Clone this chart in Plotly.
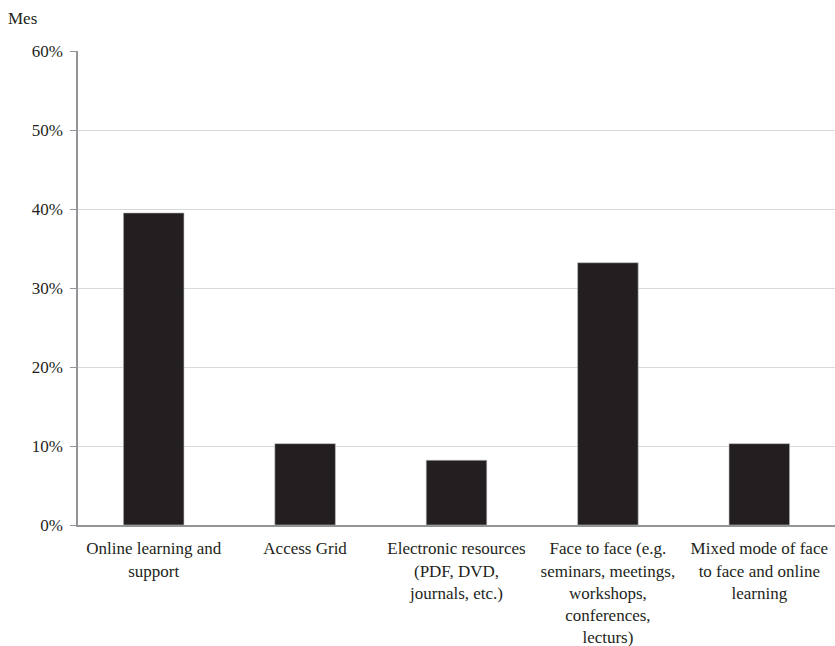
import plotly.graph_objects as go

# Share of respondents by preferred mode of professional learning
categories = [
    "Online learning and<br>support",
    "Access Grid",
    "Electronic resources<br>(PDF, DVD,<br>journals, etc.)",
    "Face to face (e.g.<br>seminars, meetings,<br>workshops,<br>conferences,<br>lecturs)",
    "Mixed mode of face<br>to face and online<br>learning",
]
shares = [39.5, 10.3, 8.2, 33.2, 10.3]
y_ticks = [0, 10, 20, 30, 40, 50, 60]
y_tick_labels = [f"{v}%" for v in y_ticks]

text_color = "#231f20"
font_family = "Liberation Serif, Times New Roman, serif"

fig = go.Figure(
    go.Bar(
        x=categories,
        y=shares,
        width=0.4,
        marker=dict(color="#231f20", line=dict(color="#bcbec0", width=0.6)),
        hoverinfo="x+y",
    )
)

fig.update_layout(
    width=835,
    height=646,
    margin=dict(l=78, r=0, t=51, b=121),
    paper_bgcolor="white",
    plot_bgcolor="white",
    font=dict(family=font_family, size=17, color=text_color),
    showlegend=False,
    annotations=[
        dict(
            text="Mes",
            xref="paper",
            yref="paper",
            x=-78 / 757,
            y=1,
            yshift=21,
            xshift=6,
            xanchor="left",
            yanchor="bottom",
            showarrow=False,
            font=dict(family=font_family, size=17, color=text_color),
        )
    ],
)

fig.update_xaxes(
    showline=True,
    linecolor="#939598",
    linewidth=2,
    ticks="",
    automargin=False,
    tickfont=dict(family=font_family, size=17, color=text_color),
    ticklabelstandoff=7,
)

fig.update_yaxes(
    range=[0, 60],
    tickvals=y_ticks,
    ticktext=y_tick_labels,
    showline=True,
    linecolor="#939598",
    linewidth=1.5,
    ticks="outside",
    ticklen=6,
    tickcolor="#939598",
    showgrid=True,
    gridcolor="#d9d9d9",
    gridwidth=1,
    zeroline=False,
    automargin=False,
    tickfont=dict(family=font_family, size=17, color=text_color),
    ticklabelstandoff=4,
)

fig.write_html("out.html")
